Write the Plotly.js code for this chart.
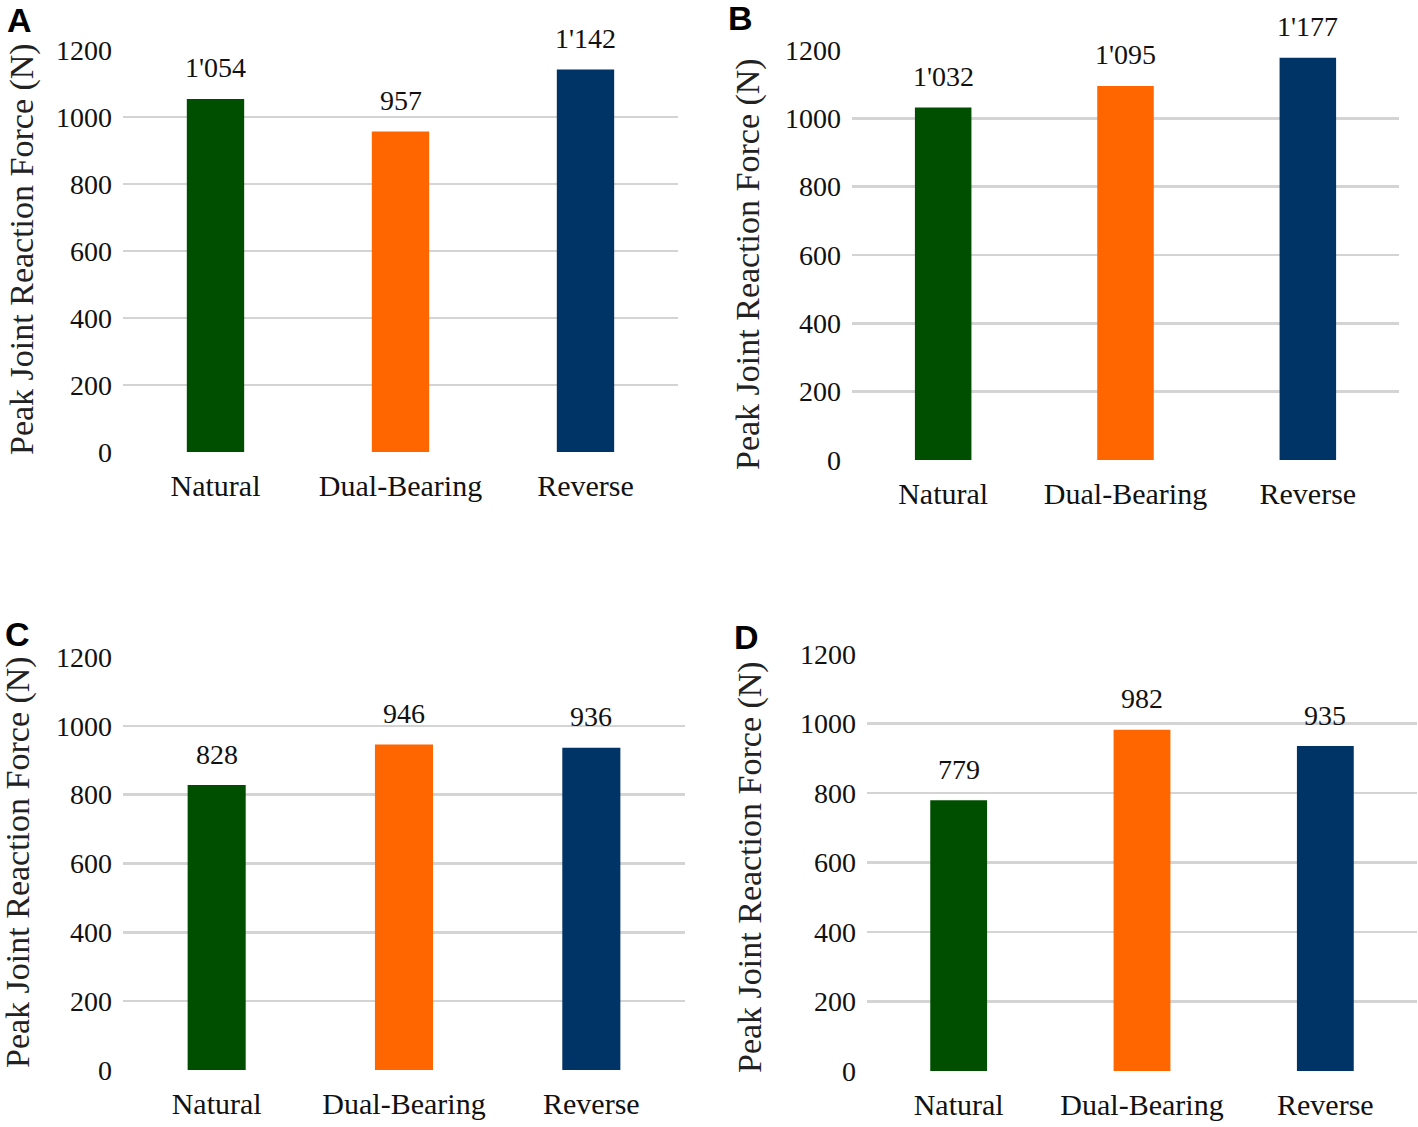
<!DOCTYPE html>
<html>
<head>
<meta charset="utf-8">
<script src="https://cdn.plot.ly/plotly-3.0.1.min.js"></script>
<style>
  html, body { margin: 0; padding: 0; background: #fff; }
  #chart { width: 1418px; height: 1127px; }
</style>
</head>
<body>
<div id="chart"></div>
<script>
// implant designs on the x axis
const categories = ['Natural', 'Dual-Bearing', 'Reverse'];

// peak joint reaction force (N), one array per panel
const valuesA = [1054, 957, 1142];
const valuesB = [1032, 1095, 1177];
const valuesC = [828, 946, 936];
const valuesD = [779, 982, 935];

const panelLetters = ['A', 'B', 'C', 'D'];
const yTicks = [0, 200, 400, 600, 800, 1000, 1200];
const barColors = ['#004f00', '#ff6600', '#003366'];
const yTitle = 'Peak Joint Reaction Force (N)';


//---------------------------------------------------------------------------------------------------------------//


const W = 1418;
const H = 1127;

// where each panel sits on the page (pixels): plot box, y title centre, letter centre
const panels = [
  { values: valuesA, left: 123, right: 678,  top: 50,  bottom: 452,  titleX: 22,  titleY: 249, letterX: 19,  letterY: 20 },
  { values: valuesB, left: 852, right: 1399, top: 50,  bottom: 460,  titleX: 748, titleY: 264, letterX: 740, letterY: 18 },
  { values: valuesC, left: 123, right: 685,  top: 657, bottom: 1070, titleX: 18,  titleY: 862, letterX: 17,  letterY: 634 },
  { values: valuesD, left: 867, right: 1417, top: 654, bottom: 1071, titleX: 750, titleY: 867, letterX: 747, letterY: 637 }
];

const serif = '"Liberation Serif", "Times New Roman", serif';
const textColor = '#111111';

// format a number with an apostrophe as the thousands separator (1'054)
const formatValue = (v) => {
  if (v < 1000) return String(v);
  return Math.floor(v / 1000) + "'" + String(v % 1000).padStart(3, '0');
};

const data = [];
const annotations = [];
const layout = {
  width: W,
  height: H,
  margin: { l: 0, r: 0, t: 0, b: 0 },
  paper_bgcolor: '#ffffff',
  plot_bgcolor: 'rgba(0,0,0,0)',
  showlegend: false,
  font: { family: serif, color: textColor }
};

panels.forEach((p, i) => {
  const n = i === 0 ? '' : String(i + 1);
  const xRef = 'x' + n;
  const yRef = 'y' + n;

  // the bars of this panel
  data.push({
    type: 'bar',
    x: categories,
    y: p.values,
    xaxis: xRef,
    yaxis: yRef,
    width: 0.31,
    marker: { color: barColors, line: { width: 0 } },
    hoverinfo: 'none'
  });

  layout['xaxis' + n] = {
    domain: [p.left / W, p.right / W],
    anchor: yRef,
    type: 'category',
    range: [-0.5, 2.5],
    showgrid: false,
    showline: false,
    zeroline: false,
    ticks: '',
    ticklabelstandoff: 13,
    tickfont: { family: serif, size: 30, color: textColor },
    fixedrange: true
  };

  layout['yaxis' + n] = {
    domain: [1 - p.bottom / H, 1 - p.top / H],
    anchor: xRef,
    range: [0, 1200],
    tickvals: yTicks,
    showgrid: true,
    gridcolor: '#d4d4d4',
    gridwidth: 2.5,
    showline: false,
    zeroline: false,
    ticks: '',
    ticklabelstandoff: 10,
    tickfont: { family: serif, size: 28, color: textColor },
    fixedrange: true
  };

  // value labels above the bars
  p.values.forEach((v, k) => {
    annotations.push({
      xref: xRef,
      yref: yRef,
      x: categories[k],
      y: v,
      text: formatValue(v),
      showarrow: false,
      xanchor: 'center',
      yanchor: 'middle',
      yshift: 31,
      font: { family: serif, size: 28, color: textColor }
    });
  });

  // y axis title
  annotations.push({
    xref: 'paper',
    yref: 'paper',
    x: p.titleX / W,
    y: 1 - p.titleY / H,
    text: yTitle,
    textangle: -90,
    showarrow: false,
    xanchor: 'center',
    yanchor: 'middle',
    font: { family: serif, size: 34, color: '#222222' }
  });

  // panel letter
  annotations.push({
    xref: 'paper',
    yref: 'paper',
    x: p.letterX / W,
    y: 1 - p.letterY / H,
    text: '<b>' + panelLetters[i] + '</b>',
    showarrow: false,
    xanchor: 'center',
    yanchor: 'middle',
    font: { family: '"Liberation Sans", Arial, sans-serif', size: 34, color: '#000000' }
  });
});

layout.annotations = annotations;

Plotly.newPlot('chart', data, layout, { displayModeBar: false, staticPlot: true });
</script>
</body>
</html>
